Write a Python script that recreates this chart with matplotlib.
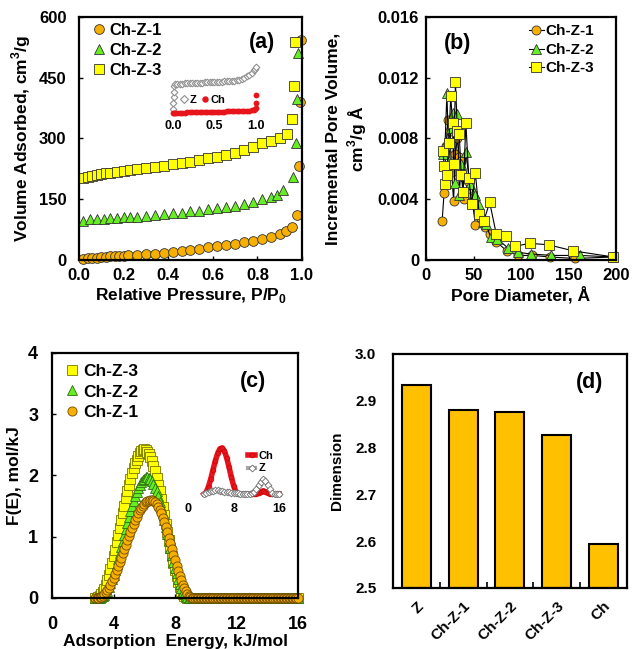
import matplotlib
matplotlib.use("Agg")
import matplotlib.pyplot as plt
from matplotlib.ticker import FixedLocator

plt.rcParams["font.family"] = ["Liberation Sans", "DejaVu Sans"]
plt.rcParams["font.weight"] = "bold"
plt.rcParams["axes.labelweight"] = "bold"
plt.rcParams["mathtext.fontset"] = "custom"
plt.rcParams["mathtext.rm"] = "Liberation Sans:bold"
plt.rcParams["mathtext.bf"] = "Liberation Sans:bold"

ORANGE = "#F8B000"
GREEN = "#66EE22"
YELLOW = "#FFFF00"
BAR = "#FFC000"

# (a) N2 adsorption isotherms
p1 = [0.02, 0.04, 0.06, 0.08, 0.10, 0.12, 0.14, 0.16, 0.18, 0.20, 0.22, 0.26, 0.30,
      0.34, 0.38, 0.42, 0.46, 0.50, 0.54, 0.58, 0.62, 0.66, 0.70, 0.74, 0.78, 0.82,
      0.86, 0.90, 0.93, 0.954, 0.976, 0.987, 0.991, 0.994]
v1 = [2, 4, 5, 6, 7, 8, 9, 9.5, 10, 11, 12, 13, 14, 15, 17, 19, 22, 25, 28, 31, 34,
      37, 40, 44, 48, 53, 58, 64, 72, 82, 111, 232, 389, 542]
p2 = [0.02, 0.05, 0.08, 0.11, 0.14, 0.17, 0.20, 0.23, 0.26, 0.30, 0.34, 0.38, 0.42,
      0.46, 0.50, 0.54, 0.58, 0.62, 0.66, 0.70, 0.74, 0.78, 0.82, 0.86, 0.89, 0.916,
      0.958, 0.973, 0.976, 0.984]
v2 = [97, 100, 101, 102, 103, 104, 105, 106, 107, 109, 111, 113, 115, 117, 120, 122,
      125, 128, 131, 134, 138, 144, 150, 155, 160, 172, 205, 290, 398, 510]
p3 = [0.02, 0.04, 0.06, 0.08, 0.10, 0.12, 0.14, 0.17, 0.20, 0.23, 0.26, 0.30, 0.34,
      0.38, 0.42, 0.46, 0.50, 0.54, 0.58, 0.62, 0.66, 0.70, 0.74, 0.78, 0.82, 0.86,
      0.90, 0.931, 0.955, 0.966, 0.970]
v3 = [203, 206, 208, 210, 212, 214, 216, 218, 220, 222, 224, 227, 230, 233, 236, 240,
      243, 247, 251, 255, 259, 264, 272, 280, 288, 295, 302, 310, 347, 429, 538]

# (a) inset: Z and Ch isotherms
pz = [0.003, 0.005, 0.007, 0.009, 0.011, 0.02, 0.05, 0.08, 0.11, 0.14, 0.17, 0.20,
      0.23, 0.26, 0.29, 0.32, 0.35, 0.38, 0.41, 0.44, 0.47, 0.50, 0.53, 0.56, 0.59,
      0.62, 0.65, 0.68, 0.71, 0.74, 0.77, 0.80, 0.83, 0.86, 0.89, 0.92, 0.95, 0.98,
      0.99, 1.0]
vz = [29, 75, 122, 165, 210, 225, 227, 229, 230, 231, 232, 233, 234, 235, 236, 237,
      238, 239, 240, 241, 242, 243, 244, 245, 246, 247, 248, 249, 250, 252, 256, 261,
      268, 277, 288, 300, 315, 335, 345, 357]
pch = [0.003, 0.01, 0.02, 0.05, 0.08, 0.11, 0.14, 0.17, 0.20, 0.23, 0.26, 0.29, 0.32,
       0.35, 0.38, 0.41, 0.44, 0.47, 0.50, 0.53, 0.56, 0.59, 0.62, 0.65, 0.68, 0.71,
       0.74, 0.77, 0.80, 0.83, 0.86, 0.89, 0.92, 0.95, 0.98, 0.99, 0.995, 1.0, 1.0]
vch = [0, 1, 2, 3, 3, 4, 4, 5, 5, 5, 6, 6, 7, 7, 7, 8, 8, 9, 9, 10, 10, 11, 11, 12, 12,
       13, 13, 14, 15, 16, 17, 18, 19, 21, 24, 30, 36, 80, 140]

# (b) pore size distribution
d1 = [17, 19, 21, 23, 25, 27, 29, 31, 33, 35, 37, 40, 44, 48, 52, 57, 62, 67, 74, 85,
      97, 112, 130, 157, 197]
w1 = [0.0026, 0.0044, 0.0075, 0.0092, 0.0085, 0.0058, 0.0039, 0.0070, 0.0080, 0.0068,
      0.0065, 0.0040, 0.0052, 0.0042, 0.0023, 0.0028, 0.0022, 0.0017, 0.0012, 0.0006,
      0.0003, 0.0003, 0.0002, 0.0001, 0.0002]
d2 = [18, 20, 22, 24, 26, 28, 30, 32, 33, 35, 37, 40, 42, 46, 50, 52, 56, 60, 63, 68,
      75, 86, 97, 110, 132, 162, 197]
w2 = [0.0070, 0.0076, 0.0110, 0.0065, 0.0087, 0.0097, 0.0051, 0.0087, 0.0096, 0.0043,
      0.0063, 0.0055, 0.0071, 0.0050, 0.0044, 0.0043, 0.0036, 0.0025, 0.0024, 0.0015,
      0.0014, 0.0008, 0.0005, 0.0004, 0.0003, 0.0003, 0.0002]
d3 = [18, 19, 20, 22, 24, 26, 28, 29, 31, 33, 35, 37, 39, 42, 45, 48, 52, 56, 61, 67,
      74, 84, 94, 109, 129, 155, 197]
w3 = [0.0072, 0.0062, 0.0050, 0.0056, 0.0077, 0.0108, 0.0090, 0.0063, 0.0117, 0.0085,
      0.0083, 0.0056, 0.0045, 0.0090, 0.0054, 0.0037, 0.0057, 0.0030, 0.0026, 0.0038,
      0.0017, 0.0016, 0.0009, 0.0011, 0.0010, 0.0006, 0.0002]

# (c) adsorption energy distribution, 2.8 ... 16.0 kJ/mol
energy = [2.8, 2.9, 3.0, 3.1, 3.2, 3.3, 3.4, 3.5, 3.6, 3.7,
          3.8, 3.9, 4.0, 4.1, 4.2, 4.3, 4.4, 4.5, 4.6, 4.7,
          4.8, 4.9, 5.0, 5.1, 5.2, 5.3, 5.4, 5.5, 5.6, 5.7,
          5.8, 5.9, 6.0, 6.1, 6.2, 6.3, 6.4, 6.5, 6.6, 6.7,
          6.8, 6.9, 7.0, 7.1, 7.2, 7.3, 7.4, 7.5, 7.6, 7.7,
          7.8, 7.9, 8.0, 8.1, 8.2, 8.3, 8.4, 8.5, 8.6, 8.7,
          8.8, 8.9, 9.0, 9.1, 9.2, 9.3, 9.4, 9.5, 9.6, 9.7,
          9.8, 9.9, 10.0, 10.1, 10.2, 10.3, 10.4, 10.5, 10.6, 10.7,
          10.8, 10.9, 11.0, 11.1, 11.2, 11.3, 11.4, 11.5, 11.6, 11.7,
          11.8, 11.9, 12.0, 12.1, 12.2, 12.3, 12.4, 12.5, 12.6, 12.7,
          12.8, 12.9, 13.0, 13.1, 13.2, 13.3, 13.4, 13.5, 13.6, 13.7,
          13.8, 13.9, 14.0, 14.1, 14.2, 14.3, 14.4, 14.5, 14.6, 14.7,
          14.8, 14.9, 15.0, 15.1, 15.2, 15.3, 15.4, 15.5, 15.6, 15.7,
          15.8, 15.9, 16.0]
fe3 = [0.00, 0.00, 0.01, 0.03, 0.06, 0.10, 0.15, 0.22, 0.29, 0.38,
       0.47, 0.57, 0.68, 0.79, 0.91, 1.03, 1.15, 1.27, 1.39, 1.51,
       1.63, 1.74, 1.85, 1.95, 2.04, 2.12, 2.20, 2.26, 2.32, 2.37,
       2.40, 2.42, 2.43, 2.42, 2.39, 2.35, 2.30, 2.24, 2.16, 2.07,
       1.96, 1.85, 1.74, 1.61, 1.48, 1.35, 1.21, 1.07, 0.94, 0.81,
       0.68, 0.57, 0.46, 0.36, 0.26, 0.18, 0.12, 0.07, 0.03, 0.01,
       0.00, 0, 0, 0, 0, 0, 0, 0, 0, 0, 0, 0, 0, 0, 0, 0, 0, 0, 0, 0,
       0, 0, 0, 0, 0, 0, 0, 0, 0, 0, 0, 0, 0, 0, 0, 0, 0, 0, 0, 0,
       0, 0, 0, 0, 0, 0, 0, 0, 0, 0, 0, 0, 0, 0, 0, 0, 0, 0, 0, 0,
       0, 0, 0, 0, 0, 0, 0, 0, 0, 0, 0, 0, 0]
fe2 = [0.00, 0.00, 0.00, 0.00, 0.01, 0.03, 0.05, 0.08, 0.12, 0.18,
       0.24, 0.31, 0.38, 0.46, 0.55, 0.64, 0.74, 0.83, 0.93, 1.03,
       1.13, 1.23, 1.33, 1.42, 1.51, 1.59, 1.66, 1.73, 1.79, 1.84,
       1.89, 1.92, 1.95, 1.97, 1.97, 1.96, 1.94, 1.91, 1.86, 1.80,
       1.74, 1.66, 1.57, 1.48, 1.38, 1.27, 1.16, 1.05, 0.93, 0.81,
       0.70, 0.59, 0.49, 0.40, 0.31, 0.23, 0.16, 0.10, 0.06, 0.03,
       0.01, 0.00, 0, 0, 0, 0, 0, 0, 0, 0, 0, 0, 0, 0, 0, 0, 0, 0, 0, 0,
       0, 0, 0, 0, 0, 0, 0, 0, 0, 0, 0, 0, 0, 0, 0, 0, 0, 0, 0, 0,
       0, 0, 0, 0, 0, 0, 0, 0, 0, 0, 0, 0, 0, 0, 0, 0, 0, 0, 0, 0,
       0, 0, 0, 0, 0, 0, 0, 0, 0, 0, 0, 0, 0]
fe1 = [0.00, 0.00, 0.00, 0.01, 0.02, 0.04, 0.06, 0.09, 0.13, 0.17,
       0.22, 0.27, 0.33, 0.39, 0.45, 0.52, 0.59, 0.66, 0.73, 0.80,
       0.87, 0.94, 1.01, 1.08, 1.15, 1.21, 1.27, 1.33, 1.38, 1.43,
       1.47, 1.50, 1.53, 1.56, 1.58, 1.59, 1.60, 1.60, 1.59, 1.57,
       1.53, 1.49, 1.44, 1.38, 1.31, 1.24, 1.16, 1.07, 0.98, 0.89,
       0.80, 0.71, 0.62, 0.53, 0.44, 0.36, 0.29, 0.22, 0.16, 0.11,
       0.07, 0.04, 0.01, 0.00, 0, 0, 0, 0, 0, 0, 0, 0, 0, 0, 0, 0, 0, 0, 0, 0,
       0, 0, 0, 0, 0, 0, 0, 0, 0, 0, 0, 0, 0, 0, 0, 0, 0, 0, 0, 0,
       0, 0, 0, 0, 0, 0, 0, 0, 0, 0, 0, 0, 0, 0, 0, 0, 0, 0, 0, 0,
       0, 0, 0, 0, 0, 0, 0, 0, 0, 0, 0, 0, 0]

# (c) inset: Ch and Z distributions
energy_in = [2.8, 3.2, 3.6, 4.0, 4.4, 4.8, 5.2, 5.6, 6.0, 6.4, 6.8, 7.2, 7.6, 8.0, 8.4,
             8.8, 9.2, 9.6, 10.0, 10.4, 10.8, 11.2, 11.6, 12.0, 12.4, 12.8, 13.2, 13.6,
             14.0, 14.4, 14.8, 15.2, 15.6, 16.0]
fe_ch = [0, 0.04, 0.16, 0.33, 0.53, 0.72, 0.88, 0.98, 1.00, 0.93, 0.78, 0.58, 0.37,
         0.18, 0.05, 0, 0, 0, 0, 0, 0, 0, 0, 0, 0.02, 0.05, 0.07, 0.05, 0.02, 0, 0, 0,
         0, 0]
fe_z = [0.00, 0.02, 0.04, 0.06, 0.07, 0.08, 0.08, 0.07, 0.06, 0.05, 0.04, 0.04, 0.03,
        0.03, 0.02, 0.02, 0.01, 0.01, 0.01, 0.01, 0.01, 0.02, 0.05, 0.11, 0.19, 0.27,
        0.32, 0.29, 0.20, 0.10, 0.03, 0.01, 0.00, 0.00]

# (d) fractal dimension
samples = ["Z", "Ch-Z-1", "Ch-Z-2", "Ch-Z-3", "Ch"]
dimension = [2.933, 2.880, 2.876, 2.827, 2.593]


def frame(ax):
    for s in ax.spines.values():
        s.set_linewidth(1.6)
    ax.tick_params(direction="in", length=3, width=1, labelsize=12)


fig = plt.figure(figsize=(6.39, 6.49), dpi=100)

# ---- (a)
ax = fig.add_axes([0.1236, 0.5994, 0.349, 0.3744])
mk = dict(ls="none", ms=7, mec="#333333", mew=0.6, clip_on=False)
ax.plot(p1, v1, "o", mfc=ORANGE, label="Ch-Z-1", **mk)
ax.plot(p2, v2, "^", mfc=GREEN, label="Ch-Z-2", **mk)
ax.plot(p3, v3, "s", mfc=YELLOW, label="Ch-Z-3", **mk)
ax.set_xlim(0, 1.0)
ax.set_ylim(0, 600)
ax.set_xticks([0.0, 0.2, 0.4, 0.6, 0.8, 1.0])
ax.set_xticklabels(["0.0", "0.2", "0.4", "0.6", "0.8", "1.0"])
ax.set_yticks([0, 150, 300, 450, 600])
frame(ax)
ax.tick_params(axis="y", pad=9)
ax.tick_params(axis="x", pad=6)
ax.set_xlabel(r"Relative Pressure, P/P$_{0}$", fontsize=12.5, labelpad=2)
ax.set_ylabel("Volume Adsorbed, cm$^{3}$/g", fontsize=12.5, labelpad=4)
ax.legend(loc="upper left", bbox_to_anchor=(0.06, 0.975), frameon=False,
          fontsize=12, handlelength=0.8, handletextpad=0.2, labelspacing=0.3,
          borderpad=0, borderaxespad=0)
ax.text(0.82, 0.897, "(a)", transform=ax.transAxes, ha="center", va="center",
        fontsize=15.5)

ins = fig.add_axes([0.2582, 0.8213, 0.1518, 0.0832])
ins.plot(pz, vz, "D", ls="none", ms=3.4, mfc="white", mec="#909090", mew=0.8,
         label="Z")
ins.plot(pch, vch, "o", ls="none", ms=4.2, mfc="#E8141C", mec="#E8141C", mew=0,
         label="Ch")
ins.set_xlim(-0.096, 1.072)
ins.set_ylim(-23, 399)
ins.set_xticks([0.0, 0.5, 1.0])
ins.set_xticklabels(["0.0", "0.5", "1.0"])
ins.set_yticks([])
ins.tick_params(length=0, labelsize=9, pad=3)
for s in ins.spines.values():
    s.set_visible(False)
ins.patch.set_alpha(0)
ins.legend(loc="center left", bbox_to_anchor=(0.1, 0.3), ncol=2, frameon=False,
           fontsize=8, handlelength=0.6, handletextpad=0.2, columnspacing=0.5,
           borderpad=0, markerscale=1.1)

# ---- (b)
ax = fig.add_axes([0.6667, 0.5994, 0.2973, 0.3744])
mk = dict(color="black", lw=0.8, ms=6.5, mec="#333333", mew=0.6, clip_on=False)
ax.plot(d1, w1, "-o", mfc=ORANGE, label="Ch-Z-1", **mk)
ax.plot(d2, w2, "-^", mfc=GREEN, label="Ch-Z-2", **mk)
ax.plot(d3, w3, "-s", mfc=YELLOW, label="Ch-Z-3", **mk)
ax.set_xlim(0, 200)
ax.set_ylim(0, 0.016)
ax.set_xticks([0, 50, 100, 150, 200])
ax.set_yticks([0, 0.004, 0.008, 0.012, 0.016])
ax.set_yticklabels(["0", "0.004", "0.008", "0.012", "0.016"])
frame(ax)
ax.tick_params(axis="y", pad=5)
ax.tick_params(axis="x", pad=6)
ax.set_xlabel("Pore Diameter, Å", fontsize=12.5, labelpad=2)
ax.set_ylabel("Incremental Pore Volume,\ncm$^{3}$/g Å", fontsize=12.5,
              labelpad=6, linespacing=1.3)
ax.legend(loc="upper left", bbox_to_anchor=(0.54, 0.97), frameon=False,
          fontsize=11, handlelength=1.0, handletextpad=0.1, labelspacing=0.3,
          borderpad=0, borderaxespad=0)
ax.text(0.168, 0.893, "(b)", transform=ax.transAxes, ha="center", va="center",
        fontsize=15.5)

# ---- (c)
ax = fig.add_axes([0.0814, 0.0786, 0.385, 0.3775])
mk = dict(ls="none", ms=6.6, mew=0.6, clip_on=False)
ax.plot(energy, fe3, "s", mfc=YELLOW, mec="#777700", label="Ch-Z-3", **mk)
ax.plot(energy, fe2, "^", mfc=GREEN, mec="#2E6E10", label="Ch-Z-2", **mk)
ax.plot(energy, fe1, "o", mfc=ORANGE, mec="#6E4A00", label="Ch-Z-1", **mk)
ax.set_xlim(0, 16)
ax.set_ylim(0, 4)
ax.set_xticks([0, 4, 8, 12, 16])
ax.set_yticks([0, 1, 2, 3, 4])
frame(ax)
ax.tick_params(labelsize=13)
ax.tick_params(axis="y", pad=10)
ax.tick_params(axis="x", pad=13)
ax.set_xlabel("Adsorption  Energy, kJ/mol", fontsize=12.5, labelpad=1)
ax.set_ylabel("F(E), mol/kJ", fontsize=12.5, labelpad=4)
ax.legend(loc="upper left", bbox_to_anchor=(0.055, 0.955), frameon=False,
          fontsize=12.5, handlelength=0.8, handletextpad=0.2, labelspacing=0.3,
          borderpad=0, borderaxespad=0)
ax.text(0.817, 0.882, "(c)", transform=ax.transAxes, ha="center", va="center",
        fontsize=15.5)

ins = fig.add_axes([0.2864, 0.2342, 0.1674, 0.0878])
ins.plot(energy_in, fe_ch, "-o", color="#E8141C", lw=4, ms=3.5, mec="#C00000",
         mew=0.4, label="Ch")
ins.plot(energy_in, fe_z, "-D", color="#A8A8A8", lw=3, ms=3.5, mfc="white",
         mec="#707070", mew=0.6, label="Z")
ins.set_xlim(-0.88, 17.9)
ins.set_ylim(-0.065, 1.17)
ins.set_xticks([0, 8, 16])
ins.set_yticks([])
ins.tick_params(length=0, labelsize=9, pad=4)
for s in ins.spines.values():
    s.set_visible(False)
ins.patch.set_alpha(0)
ins.legend(loc="upper left", bbox_to_anchor=(0.56, 0.9), frameon=False,
           fontsize=8, handlelength=0.6, handletextpad=0.3, labelspacing=0.2,
           borderpad=0)

# ---- (d)
ax = fig.add_axes([0.615, 0.094, 0.3662, 0.3606])
xpos = list(range(len(samples)))
ax.bar(xpos, [v - 2.5 for v in dimension], bottom=2.5, width=0.62, color=BAR,
       edgecolor="black", linewidth=1.5)
ax.set_xlim(-0.5, 4.5)
ax.set_ylim(2.5, 3.0)
ax.set_yticks([2.5, 2.6, 2.7, 2.8, 2.9, 3.0])
ax.set_xticks(xpos)
ax.set_xticklabels(samples, rotation=45, ha="right", rotation_mode="anchor")
ax.xaxis.set_minor_locator(FixedLocator([0.5, 1.5, 2.5, 3.5]))
frame(ax)
ax.tick_params(labelsize=11)
ax.tick_params(axis="x", which="major", length=0, pad=8)
ax.tick_params(axis="x", which="minor", direction="in", length=4, width=1.2)
ax.tick_params(axis="y", pad=12, length=0)
ax.set_ylabel("Dimension", fontsize=11, labelpad=8)
ax.text(0.842, 0.88, "(d)", transform=ax.transAxes, ha="center", va="center",
        fontsize=15.5)

fig.savefig("out.png", dpi=100)
